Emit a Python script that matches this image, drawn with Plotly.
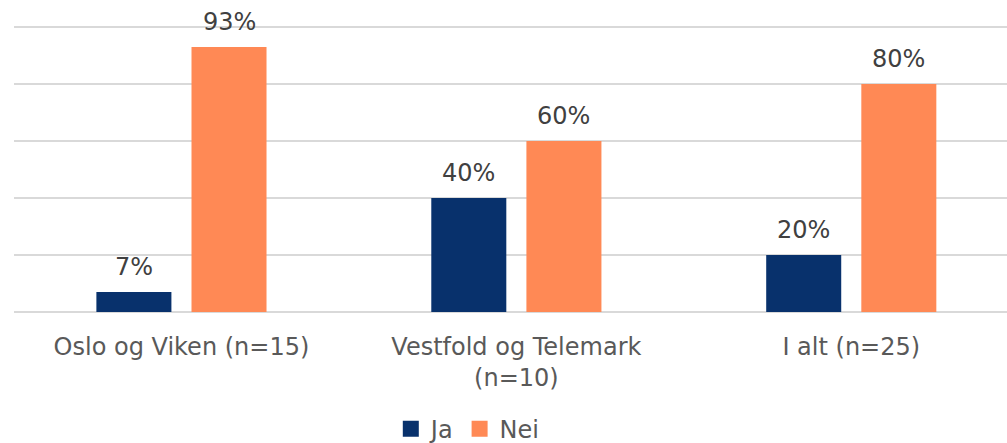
import plotly.graph_objects as go

# Data
categories = ["Oslo og Viken (n=15)", "Vestfold og Telemark<br>(n=10)", "I alt (n=25)"]
series_names = ["Ja", "Nei"]
ja = [7, 40, 20]
nei = [93, 60, 80]

navy = "#08316C"
orange = "#FF8955"
font = "DejaVu Sans, Verdana, sans-serif"

fig = go.Figure()
fig.add_trace(go.Bar(x=categories, y=ja, name="Ja", marker=dict(color=navy, line=dict(width=0)),
                     width=0.224, offset=-0.254, showlegend=False))
fig.add_trace(go.Bar(x=categories, y=nei, name="Nei", marker=dict(color=orange, line=dict(width=0)),
                     width=0.224, offset=0.03, showlegend=False))

# legend entries with bigger square symbols
for name, col in zip(series_names, [navy, orange]):
    fig.add_trace(go.Scatter(x=[None], y=[None], mode="markers", name=name,
                             marker=dict(symbol="square", size=16, color=col)))

# value labels above the bars
for vals, shift in [(ja, -0.142), (nei, 0.142)]:
    for c, v in zip(categories, vals):
        fig.add_annotation(x=c, y=v, text=f"{v}%", showarrow=False, yanchor="bottom",
                           xshift=shift * 335, yshift=9,
                           font=dict(family=font, size=24, color="#404040"))

fig.update_layout(
    width=1007, height=443,
    margin=dict(l=14, r=0, t=26, b=131, autoexpand=False),
    paper_bgcolor="white", plot_bgcolor="white",
    font=dict(family=font, size=24, color="#595959"),
    showlegend=True,
    legend=dict(orientation="h", x=0.457, xanchor="center", y=-0.41, yanchor="middle",
                font=dict(size=24, color="#595959"), itemwidth=30, traceorder="normal"),
    xaxis=dict(type="category", range=[-0.5, 2.465], showgrid=False, zeroline=False,
               showline=False, ticks="outside", ticklen=13, tickcolor="rgba(0,0,0,0)",
               tickfont=dict(size=24, color="#595959")),
    yaxis=dict(range=[0, 100.4], dtick=20, showticklabels=False, showgrid=True,
               gridcolor="#d9d9d9", gridwidth=2, zeroline=True, zerolinecolor="#d9d9d9",
               zerolinewidth=2, showline=False),
)

# drop the default body margin so the figure fills the window
fig.write_html("out.html", config={"displayModeBar": False},
               post_script="document.body.style.margin = '0';")
